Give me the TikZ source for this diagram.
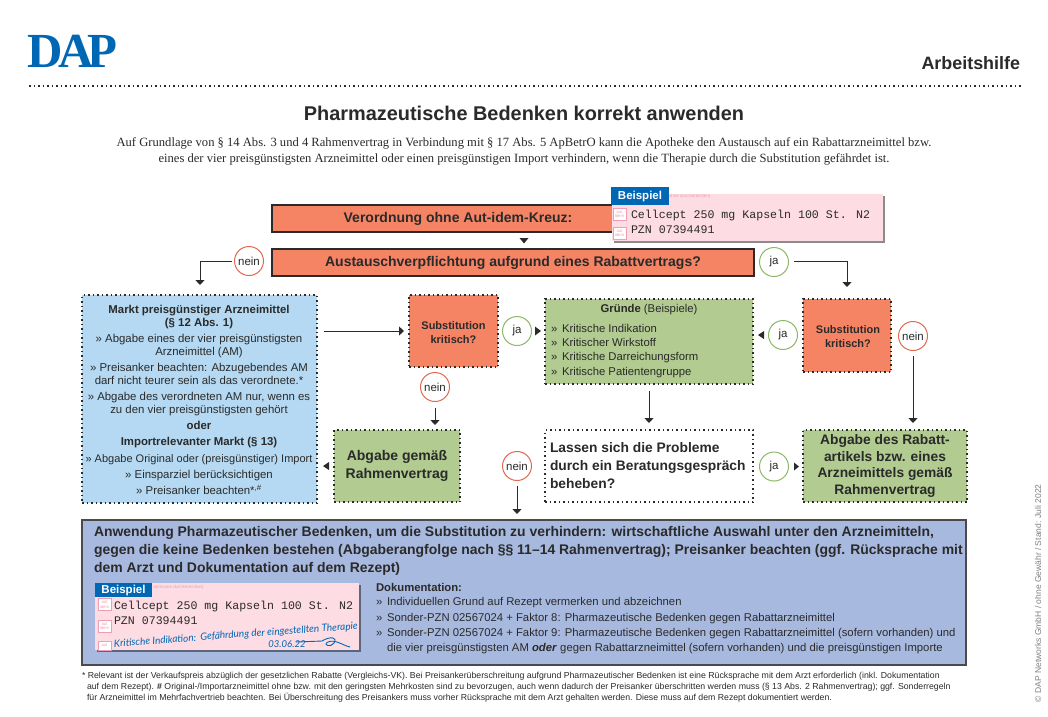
\documentclass[tikz,border=0pt]{standalone}
\usepackage{fontspec}
\setmainfont{Liberation Sans}
\newfontfamily\serifx{Liberation Serif}
\newfontfamily\monox{Liberation Mono}
\newfontfamily\handx{Lato}
\usetikzlibrary{arrows.meta,shadows}
\definecolor{orangex}{HTML}{F58465}
\definecolor{greenx}{HTML}{B1CB90}
\definecolor{bluex}{HTML}{B5D9F2}
\definecolor{perix}{HTML}{A8B9DF}
\definecolor{pinkx}{HTML}{FDDCE3}
\definecolor{dapblue}{HTML}{0067B4}
\definecolor{inkx}{HTML}{2A2A2A}
\definecolor{tagpink}{HTML}{EE9DB5}
\definecolor{ringg}{HTML}{8DB866}
\definecolor{ringr}{HTML}{E2694F}
\tikzset{
  x=1pt,y=-1pt,
  every node/.style={inner sep=0pt,outer sep=0pt,text=inkx},
  fs/.style={font=\fontsize{#1}{#1}\selectfont},
  solidbox/.style={draw=inkx,line width=1.1pt,fill=orangex},
  dotbox/.style={draw=inkx,line width=1.5pt,dash pattern=on 1.5pt off 3pt},
  yes/.style={circle,draw=ringg,fill=white,line width=1pt,minimum size=29pt,fs=11.5},
  no/.style={circle,draw=ringr,fill=white,line width=1pt,minimum size=29pt,fs=11.5},
  conn/.style={draw=inkx,line width=1pt,-{Triangle[width=9pt,length=5pt]}},
  tri/.style={fill=inkx,draw=none},
  pinkcard/.style={fill=pinkx,draw=none,drop shadow={shadow xshift=1.5pt,shadow yshift=-1.5pt,fill=black,opacity=.45}},
  tag/.style={fill=dapblue,text=white,font=\bfseries\fontsize{11.5}{11.5}\selectfont,text height=8pt,text depth=2pt,anchor=north west,align=center},
  idem/.style={draw=tagpink,fill=white,line width=.5pt,minimum width=13pt,minimum height=12pt,text=tagpink,align=center,font=\fontsize{4.2}{4.4}\selectfont},
  note/.style={text=tagpink,font=\fontsize{4.4}{4.4}\selectfont,anchor=west},
  rx/.style={font=\monox\fontsize{#1}{#1}\selectfont,anchor=west},
  bluet/.style={font=\fontsize{#1}{#1}\selectfont,anchor=base,yshift=-4pt},
  lst/.style={font=\fontsize{#1}{#1}\selectfont,anchor=base west,yshift=-4pt},
  hand/.style={text=dapblue,font=\handx\itshape\fontsize{#1}{#1}\selectfont,anchor=center},
}
\begin{document}
\begin{tikzpicture}
\useasboundingbox (0,0) rectangle (1048,716);
\fill[white] (0,0) rectangle (1048,716);

% header
\node[text=dapblue,font=\serifx\bfseries\fontsize{49}{49}\selectfont,anchor=center] (logo) at (72.5,51.5) {D\kern-5pt A\kern-6pt P};
\node[font=\bfseries\fontsize{17.9}{17.9}\selectfont,anchor=east] (head) at (1020,63) {Arbeitshilfe};
\coordinate (ruleL) at (29,86); \coordinate (ruleR) at (1022,86);
\draw[inkx,line width=1.5pt,dash pattern=on 1.5pt off 3pt] (ruleL) -- (ruleR);
\node[font=\bfseries\fontsize{19.9}{19.9}\selectfont] (title) at (524,113) {Pharmazeutische Bedenken korrekt anwenden};
\node[font=\serifx\fontsize{12.6}{15.2}\selectfont,align=center] (intro) at (524,151.5) {Auf Grundlage von § 14 Abs. 3 und 4 Rahmenvertrag in Verbindung mit § 17 Abs. 5 ApBetrO kann die Apotheke den Austausch auf ein Rabattarzneimittel bzw.\\eines der vier preisgünstigsten Arzneimittel oder einen preisgünstigen Import verhindern, wenn die Therapie durch die Substitution gefährdet ist.};

% top boxes
\node[solidbox,minimum width=372pt,minimum height=27pt,anchor=north west,fs=14] (vo) at (272,205) {\bfseries Verordnung ohne Aut-idem-Kreuz:};
\node[solidbox,minimum width=482pt,minimum height=27pt,anchor=north west,fs=14] (aus) at (272,249) {\bfseries Austauschverpflichtung aufgrund eines Rabattvertrags?};
\fill[tri] (519.5,238) -- (528.5,238) -- (524,243.5) -- cycle;

% Beispiel 1
\node[pinkcard,minimum width=271pt,minimum height=47pt,anchor=north west] (card1) at (612,194) {};
\node[tag,minimum width=58pt,minimum height=18pt] (tag1) at (611,187) {Beispiel};
\node[note] (note1) at (669,196.5) {ohne durchstreichen)};
\node[idem] (i1) at (619.5,214) {aut\\idem};
\node[idem] (i2) at (619.5,233) {aut\\idem};
\node[rx=11.6] (l1) at (631,215) {Cellcept 250 mg Kapseln 100 St. N2};
\node[rx=11.6] (l2) at (631,230) {PZN 07394491};

% nein / ja top
\node[no] (n1) at (249,261) {nein};
\node[yes] (j1) at (774,262) {ja};
\coordinate (n1s) at (232,261);
\coordinate (j1s) at (794,261);

% Blue box
\node[dotbox,fill=bluex,minimum width=235pt,minimum height=208pt,anchor=north west] (blue) at (82,295) {};
\foreach \yy/\sz/\tx [count=\i] in {
  309/11.4/{\textbf{Markt preisgünstiger Arzneimittel}},
  322/11.4/{\textbf{(§ 12 Abs. 1)}},
  338/11.4/{» Abgabe eines der vier preisgünstigsten},
  351/11.4/{Arzneimittel (AM)},
  367/11.4/{» Preisanker beachten: Abzugebendes AM},
  380/11.4/{darf nicht teurer sein als das verordnete.*},
  396/11.4/{» Abgabe des verordneten AM nur{,} wenn es},
  409/11.4/{zu den vier preisgünstigsten gehört},
  425/11.4/{\textbf{oder}},
  441/11.4/{\textbf{Importrelevanter Markt (§ 13)}},
  458/11/{» Abgabe Original oder (preisgünstiger) Import},
  474/11.4/{» Einsparziel berücksichtigen},
  490/11.4/{» Preisanker beachten*\textsuperscript{{,}\#}}}
  \node[bluet=\sz] (bl\i) at (199,\yy) {\tx};

% center row
\node[dotbox,fill=orangex,minimum width=89pt,minimum height=72pt,anchor=north west] (sub1) at (409,295) {};
\node[font=\fontsize{11}{14}\selectfont,align=center,anchor=center] (sub1t) at (453.5,333) {\bfseries Substitution\\\bfseries kritisch?};
\node[yes] (j2) at (517,331) {ja};
\node[dotbox,fill=greenx,minimum width=208pt,minimum height=85pt,anchor=north west] (gr) at (545,299) {};
\node[fs=11.3,anchor=center] (grh) at (649,310) {\textbf{Gründe} (Beispiele)};
\foreach \yy/\tx [count=\i] in {328/Kritische Indikation,342/Kritischer Wirkstoff,356/Kritische Darreichungsform,371/Kritische Patientengruppe}{
  \node[lst=11.3] (grb\i) at (551,\yy) {»};
  \node[lst=11.3] (grl\i) at (562,\yy) {\tx};
}
\node[yes] (j3) at (783,335) {ja};
\node[dotbox,fill=orangex,minimum width=88pt,minimum height=73pt,anchor=north west] (sub2) at (803,299) {};
\node[font=\fontsize{11}{14}\selectfont,align=center,anchor=center] (sub2t) at (848,337) {\bfseries Substitution\\\bfseries kritisch?};
\node[no] (n3) at (913,336) {nein};
\node[no] (n2) at (435,387) {nein};

% lower row
\node[dotbox,fill=greenx,minimum width=126pt,minimum height=72pt,anchor=north west,font=\fontsize{14}{18.5}\selectfont,align=center] (ab1) at (334,430) {\bfseries Abgabe gemäß\\\bfseries Rahmenvertrag};
\node[no] (n4) at (517,466) {nein};
\node[dotbox,fill=white,minimum width=208pt,minimum height=72pt,anchor=north west] (las) at (545,430) {};
\node[font=\fontsize{13.8}{18}\selectfont,anchor=west,align=left] (last) at (550,466) {\bfseries Lassen sich die Probleme\\\bfseries durch ein Beratungsgespräch\\\bfseries beheben?};
\node[yes] (j4) at (774,466.5) {ja};
\node[dotbox,fill=greenx,minimum width=164pt,minimum height=72pt,anchor=north west,font=\fontsize{13.8}{16.7}\selectfont,align=center] (ab2) at (803,430) {\bfseries Abgabe des Rabatt-\\\bfseries artikels bzw. eines\\\bfseries Arzneimittels gemäß\\\bfseries Rahmenvertrag};

% triangles
\fill[tri] (535,326.5) -- (541,331) -- (535,335.5) -- cycle;
\fill[tri] (764,331) -- (758,335) -- (764,339) -- cycle;
\fill[tri] (329,462) -- (323,466) -- (329,470) -- cycle;
\fill[tri] (794,462.5) -- (799,466.5) -- (794,470.5) -- cycle;

% connectors
\coordinate (b1) at (324,331);
\coordinate (b2) at (404,331);
\coordinate (t1) at (200,285);
\coordinate (t2) at (847,287);
\draw[conn] (n1s) -| (t1);
\draw[conn] (j1s) -| (t2);
\draw[conn] (b1) -- (b2);
\draw[conn] ([yshift=-6pt]n2.south) -- ([yshift=5pt]ab1.north -| n2);
\draw[conn] ([yshift=-5pt]n3.south) -- ([yshift=7pt]ab2.north -| n3);
\draw[conn] ([yshift=-7pt]gr.south) -- ([yshift=7pt]las.north);
\coordinate (n4t) at (517,514);
\draw[conn] ([yshift=-5.5pt]n4.south) -- (n4t);

% big box
\node[draw=inkx!85,line width=1.5pt,fill=perix,minimum width=884pt,minimum height=145pt,anchor=north west] (big) at (82,520) {};
\node[font=\fontsize{13.95}{18}\selectfont,anchor=north west,align=left] (bigt) at (94,526) {\bfseries Anwendung Pharmazeutischer Bedenken, um die Substitution zu verhindern: wirtschaftliche Auswahl unter den Arzneimitteln,\\\bfseries gegen die keine Bedenken bestehen (Abgaberangfolge nach §§ 11–14 Rahmenvertrag); Preisanker beachten (ggf. Rücksprache mit\\\bfseries dem Arzt und Dokumentation auf dem Rezept)};

% Beispiel 2
\node[pinkcard,minimum width=264pt,minimum height=67pt,anchor=north west] (card2) at (95,583) {};
\node[tag,minimum width=57pt,minimum height=14pt] (tag2) at (95,583) {Beispiel};
\node[note] (note2) at (153,587.5) {wertsume durchstreichen)};
\node[idem] (i3) at (104.5,604.5) {aut\\idem};
\node[idem] (i4) at (104.5,626) {aut\\idem};
\node[idem,minimum height=9pt] (i5) at (104.5,645.5) {aut};
\node[rx=11.6] (l3) at (114,606) {Cellcept 250 mg Kapseln 100 St. N2};
\node[rx=11.6] (l4) at (114,621) {PZN 07394491};
\node[hand=10,rotate=4] (hw1) at (155,640.5) {Kritische Indikation:};
\node[hand=10,rotate=4] (hw3) at (279,632) {Gefährdung der eingestellten Therapie};
\node[hand=9.5] (hw2) at (287,644.5) {03.06.22};
\draw[dapblue,line width=.9pt,line cap=round] (296,642) -- (322,641) .. controls (330,636) and (338,637) .. (334,643) .. controls (331,648) and (322,645) .. (328,642) .. controls (335,639) and (342,645) .. (350,647);

% Dokumentation
\node[lst=11.3] (doh) at (376,587) {\bfseries Dokumentation:};
\foreach \yy/\tx [count=\i] in {
  601/Individuellen Grund auf Rezept vermerken und abzeichnen,
  617/Sonder-PZN 02567024 + Faktor 8: Pharmazeutische Bedenken gegen Rabattarzneimittel,
  632/Sonder-PZN 02567024 + Faktor 9: Pharmazeutische Bedenken gegen Rabattarzneimittel (sofern vorhanden) und}{
  \node[lst=11.3] (dob\i) at (376,\yy) {»};
  \node[lst=11.3] (dol\i) at (387,\yy) {\tx};
}
\node[lst=11.3] (dol4) at (387,647) {die vier preisgünstigsten AM \textbf{\textit{oder}} gegen Rabattarzneimittel (sofern vorhanden) und die preisgünstigen Importe};

% footnote
\node[anchor=north west,align=left,font=\fontsize{8.73}{10.8}\selectfont] (foot) at (82,672.5) {%
* Relevant ist der Verkaufspreis abzüglich der gesetzlichen Rabatte (Vergleichs-VK). Bei Preisankerüberschreitung aufgrund Pharmazeutischer Bedenken ist eine Rücksprache mit dem Arzt erforderlich (inkl. Dokumentation\\
\hspace*{5pt}auf dem Rezept). \textbf{\#} Original-/Importarzneimittel ohne bzw. mit den geringsten Mehrkosten sind zu bevorzugen, auch wenn dadurch der Preisanker überschritten werden muss (§ 13 Abs. 2 Rahmenvertrag); ggf. Sonderregeln\\
\hspace*{5pt}für Arzneimittel im Mehrfachvertrieb beachten. Bei Überschreitung des Preisankers muss vorher Rücksprache mit dem Arzt gehalten werden. Diese muss auf dem Rezept dokumentiert werden.};
\node[text=black!50,rotate=90,anchor=west,font=\fontsize{8.5}{8.5}\selectfont] (copy) at (1038,702) {© DAP Networks GmbH / ohne Gewähr / Stand: Juli 2022};
\end{tikzpicture}
\end{document}
